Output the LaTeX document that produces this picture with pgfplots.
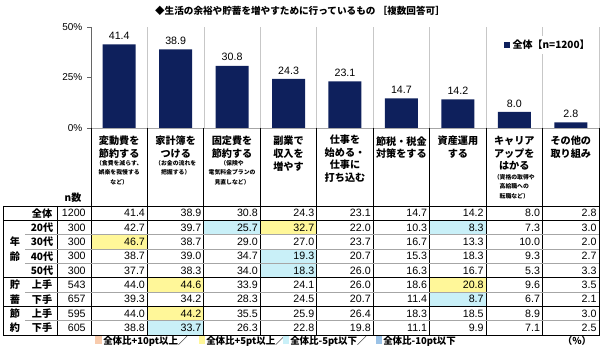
\documentclass[border=0pt]{standalone}
\usepackage{pgfplots}
\pgfplotsset{compat=1.18}
\usepackage{pgfplotstable}
\usepackage{fontspec}
\setmainfont{Liberation Sans}
\newfontfamily\jp{Noto Sans CJK JP}
\definecolor{navy}{HTML}{0E205C}
\definecolor{hlyel}{HTML}{FFF799}
\definecolor{hlcyan}{HTML}{C9F0F8}
\definecolor{hlorg}{HTML}{F8CBAD}
\definecolor{hlblue}{HTML}{9BC2E6}

\pgfplotstableread{
x y
1 41.4
2 38.9
3 30.8
4 24.3
5 23.1
6 14.7
7 14.2
8 8.0
9 2.8
}\bars

\pgfplotstableread{
r n c1 c2 c3 c4 c5 c6 c7 c8 c9
1 1200 41.4 38.9 30.8 24.3 23.1 14.7 14.2 8.0 2.8
2 300 42.7 39.7 25.7 32.7 22.0 10.3 8.3 7.3 3.0
3 300 46.7 38.7 29.0 27.0 23.7 16.7 13.3 10.0 2.0
4 300 38.7 39.0 34.7 19.3 20.7 15.3 18.3 9.3 2.7
5 300 37.7 38.3 34.0 18.3 26.0 16.3 16.7 5.3 3.3
6 543 44.0 44.6 33.9 24.1 26.0 18.6 20.8 9.6 3.5
7 657 39.3 34.2 28.3 24.5 20.7 11.4 8.7 6.7 2.1
8 595 44.0 44.2 35.5 25.9 26.4 18.3 18.5 8.9 3.0
9 605 38.8 33.7 26.3 22.8 19.8 11.1 9.9 7.1 2.5
}\tabdata

\pgfplotsset{tabnum/.style={draw=none, mark=none, nodes near coords, point meta=explicit symbolic,
  every node near coord/.append style={anchor=east, inner sep=0pt, font=\fontsize{8}{9}\selectfont, text=black}}}

\begin{document}
\begin{tikzpicture}
\path[use as bounding box] (0pt,0pt) rectangle (450pt,-261pt);

% ---------- bar chart ----------
\begin{axis}[
  at={(68.25pt,-96pt)}, anchor=south west,
  width=381pt, height=75.75pt, scale only axis,
  xmin=0.5, xmax=9.5, ymin=0, ymax=50,
  axis x line*=bottom, axis y line*=left,
  x axis line style={black!35, -},
  y axis line style={black!60, -},
  xtick={1.5,2.5,3.5,4.5,5.5,6.5,7.5,8.5,9.5}, xticklabels={},
  xmajorgrids, major grid style={black!22, line width=0.5pt},
  x tick style={draw=none},
  ytick={0,25,50}, yticklabels={0\%,25\%,50\%},
  y tick style={black!60}, tick align=outside, major tick length=3pt,
  yticklabel style={font=\fontsize{7.5}{9}\selectfont},
  clip=false,
  legend style={at={(0.81,0.82)}, anchor=west, draw=none, fill=white, inner sep=1pt,
    font=\jp\bfseries\fontsize{7.5}{9}\selectfont},
]
\addplot[ybar, bar width=24.75pt, fill=navy, draw=none,
  legend image code/.code={\fill[navy] (0pt,-2.2pt) rectangle (4.4pt,2.2pt);},
  nodes near coords={\pgfmathprintnumber[fixed,fixed zerofill,precision=1,assume math mode=true]{\pgfplotspointmeta}},
  every node near coord/.append style={font=\fontsize{8}{9}\selectfont, text=black}]
  table[x=x,y=y]{\bars};
\addlegendentry{全体【n=1200】}
\end{axis}

% ---------- table ----------
\begin{axis}[
  at={(68.25pt,-251.25pt)}, anchor=south west,
  width=381pt, height=96.75pt, scale only axis,
  xmin=0.5, xmax=9.5, ymin=0.5, ymax=9.5, y dir=reverse,
  hide axis, clip=false,
]
\fill[hlcyan] (axis cs:2.5,1.5) rectangle (axis cs:3.5,2.5);
\fill[hlyel]  (axis cs:3.5,1.5) rectangle (axis cs:4.5,2.5);
\fill[hlcyan] (axis cs:6.5,1.5) rectangle (axis cs:7.5,2.5);
\fill[hlyel]  (axis cs:0.5,2.5) rectangle (axis cs:1.5,3.5);
\fill[hlcyan] (axis cs:3.5,3.5) rectangle (axis cs:4.5,4.5);
\fill[hlcyan] (axis cs:3.5,4.5) rectangle (axis cs:4.5,5.5);
\fill[hlyel]  (axis cs:1.5,5.5) rectangle (axis cs:2.5,6.5);
\fill[hlyel]  (axis cs:6.5,5.5) rectangle (axis cs:7.5,6.5);
\fill[hlcyan] (axis cs:6.5,6.5) rectangle (axis cs:7.5,7.5);
\fill[hlyel]  (axis cs:1.5,7.5) rectangle (axis cs:2.5,8.5);
\fill[hlcyan] (axis cs:1.5,8.5) rectangle (axis cs:2.5,9.5);
\addplot[tabnum] table[x expr=0.41, y=r, meta=n]{\tabdata};
\pgfplotsinvokeforeach{1,...,9}{
  \addplot[tabnum] table[x expr=#1+0.46, y=r, meta=c#1]{\tabdata};
}
\end{axis}

% ---------- lines and labels (pixel coordinates) ----------
\begin{scope}[x=0.75pt,y=-0.75pt]
\foreach \k in {0,...,9} \draw[line width=0.6pt] ({91+56.44*\k},128) -- ({91+56.44*\k},335);
\draw[line width=0.6pt] (3,206) -- (3,335);
\draw[line width=0.6pt] (57,206) -- (57,335);
\foreach \yy in {206,220.3,277.7,306.3,335} \draw[line width=0.6pt] (3,\yy) -- (599.5,\yy);
\foreach \yy in {234.7,249,263.3,292,320.7} \draw[line width=0.5pt, black!35] (25,\yy) -- (599,\yy);

\node[font=\jp\bfseries\fontsize{7.2}{8}\selectfont] at (300,11) {◆生活の余裕や貯蓄を増やすために行っているもの ［複数回答可］};
\node[font=\jp\bfseries\fontsize{7.5}{9}\selectfont] at (73,198) {n数};

\begin{scope}[every node/.style={font=\jp\bfseries\fontsize{7.6}{9}\selectfont, inner sep=0pt}]
\node at (42,213.2) {全体};
\node at (42,227.5) {20代};
\node at (42,241.8) {30代};
\node at (42,256.2) {40代};
\node at (42,270.5) {50代};
\node at (42,284.8) {上手};
\node at (42,299.2) {下手};
\node at (42,313.5) {上手};
\node at (42,327.8) {下手};
\node at (15,241.8) {年};
\node at (15,256.2) {齢};
\node at (15,284.8) {貯};
\node at (15,299.2) {蓄};
\node at (15,313.5) {節};
\node at (15,327.8) {約};
\end{scope}

\begin{scope}[every node/.style={font=\jp\bfseries\fontsize{7.6}{9.4}\selectfont, inner sep=0pt, align=center, anchor=north}]
\node at (119.2,136) {変動費を\\節約する};
\node at (175.7,136) {家計簿を\\つける};
\node at (232.1,136) {固定費を\\節約する};
\node at (288.5,136) {副業で\\収入を\\増やす};
\node at (345.0,135) {仕事を\\始める・\\仕事に\\打ち込む};
\node at (401.4,136) {節税・税金\\対策をする};
\node at (457.9,136) {資産運用\\する};
\node at (514.3,136) {キャリア\\アップを\\はかる};
\node at (570.8,136) {その他の\\取り組み};
\end{scope}
\begin{scope}[every node/.style={font=\jp\bfseries\fontsize{4.4}{7.1}\selectfont, inner sep=0pt, align=center, anchor=north}]
\node at (119.2,160) {（食費を減らす、\\娯楽を我慢する\\など）};
\node at (175.7,160) {（お金の流れを\\把握する）};
\node at (232.1,160) {（保険や\\電気料金プランの\\見直しなど）};
\node at (514.3,174) {（資格の取得や\\高給職への\\転職など）};
\end{scope}

\begin{scope}[every node/.style={font=\jp\bfseries\fontsize{7.1}{8.5}\selectfont, inner sep=0pt, anchor=west}]
\fill[hlorg] (95,336.5) rectangle (102,344.5);
\node at (103,341) {全体比+10pt以上／};
\fill[hlyel] (199,336.5) rectangle (205,344.5);
\node at (206,341) {全体比+5pt以上／};
\fill[hlcyan] (283,336.5) rectangle (289,344.5);
\node at (290,341) {全体比-5pt以下／};
\fill[hlblue] (376,336.5) rectangle (382,344.5);
\node at (383,341) {全体比-10pt以下};
\node[anchor=center] at (577,341) {（\%）};
\end{scope}
\end{scope}
\end{tikzpicture}
\end{document}
